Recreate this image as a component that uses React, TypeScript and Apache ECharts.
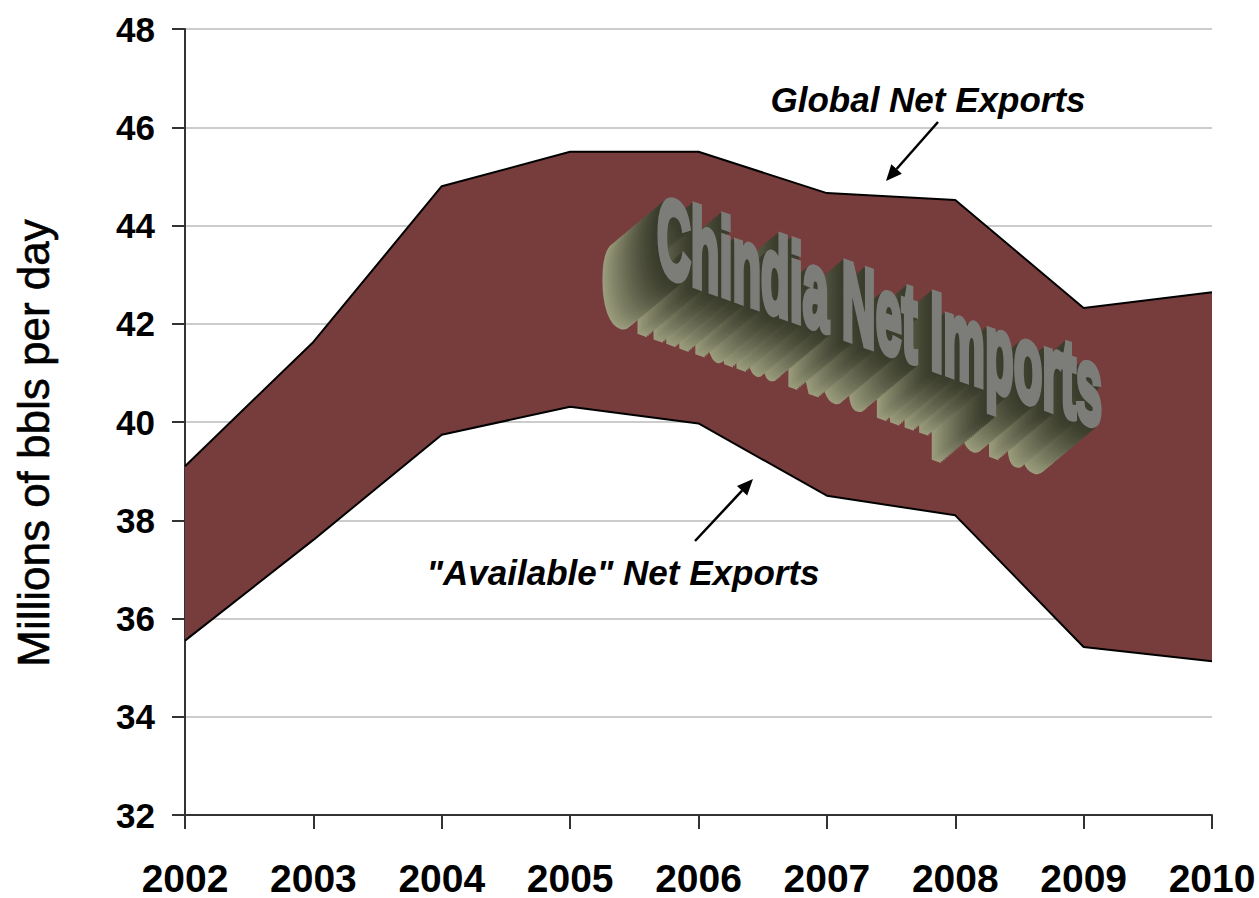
import React, { useEffect, useRef } from "react";
import * as echarts from "echarts";

const years = ["2002", "2003", "2004", "2005", "2006", "2007", "2008", "2009", "2010"];
const globalNetExports = [39.1, 41.63, 44.8, 45.5, 45.5, 44.66, 44.52, 42.32, 42.64];
const availableNetExports = [35.55, 37.6, 39.74, 40.31, 39.97, 38.5, 38.1, 35.42, 35.13];
const yMin = 32;
const yMax = 48;
const yStep = 2;

const yTitle = "Millions of bbls per day";
const globalLabel = "Global Net Exports";
const availableLabel = "\"Available\" Net Exports";
const chindiaLabel = "Chindia Net Imports";

const FONT = "'Liberation Sans', Arial, sans-serif";

function arrow(x1: number, y1: number, x2: number, y2: number) {
  const ang = Math.atan2(y2 - y1, x2 - x1);
  const L = 16;
  const W = 7;
  const bx = x2 - L * Math.cos(ang);
  const by = y2 - L * Math.sin(ang);
  const px = -Math.sin(ang) * W;
  const py = Math.cos(ang) * W;
  return [
    { type: "line", z: 100, shape: { x1, y1, x2: bx, y2: by }, style: { stroke: "#000", lineWidth: 2.5 } },
    {
      type: "polygon",
      z: 100,
      shape: { points: [[x2, y2], [bx + px, by + py], [bx - px, by - py]] },
      style: { fill: "#000" },
    },
  ];
}

function hexLerp(a: string, b: string, t: number) {
  const pa = [1, 3, 5].map((i) => parseInt(a.slice(i, i + 2), 16));
  const pb = [1, 3, 5].map((i) => parseInt(b.slice(i, i + 2), 16));
  const c = pa.map((v, i) => Math.round(v + (pb[i] - v) * t));
  return "rgb(" + c.join(",") + ")";
}

function chindiaText() {
  const k = 0.35; // vertical shear (slope)
  const E = 1, F = 0, G = k / 2, H = k / 2;
  const Qv = Math.sqrt(E * E + H * H);
  const Rv = Math.sqrt(F * F + G * G);
  const s1 = Qv + Rv;
  const s2 = Qv - Rv;
  const a1 = Math.atan2(G, F);
  const a2 = Math.atan2(H, E);
  const theta = (a2 - a1) / 2;
  const phi = (a2 + a1) / 2;
  const fontSize = 110;
  let w = 1100;
  try {
    const ctx = document.createElement("canvas").getContext("2d");
    if (ctx) {
      ctx.font = "bold " + fontSize + "px 'Liberation Sans'";
      w = ctx.measureText(chindiaLabel).width;
    }
  } catch (e) {}
  const cond = 445 / w;
  const x0 = 657;
  const y0 = 234;
  const make = (dx: number, dy: number, fill: string) => ({
    type: "group",
    x: x0 + dx,
    y: y0 + dy,
    rotation: -phi,
    scaleX: s1,
    scaleY: s2,
    z: 100,
    children: [
      {
        type: "group",
        rotation: -theta,
        z: 100,
        children: [
          {
            type: "text",
            scaleX: cond,
            z: 100,
            style: {
              text: chindiaLabel,
              x: 0,
              y: 0,
              fontSize,
              fontWeight: "bold",
              fontFamily: FONT,
              fill,
              stroke: fill,
              lineWidth: 7,
              textAlign: "left",
              textVerticalAlign: "middle",
            },
          },
        ],
      },
    ],
  });
  const out: any[] = [];
  const N = 32;
  for (let i = N; i >= 1; i--) {
    const t = i / N;
    out.push(make(-55 * t, 46 * t, hexLerp("#393b2b", "#9a9c7c", Math.pow(t, 1.3))));
  }
  out.push(make(0, 0, "#7c7d79"));
  return { type: "group", z: 100, children: out };
}

export default function App() {
  const ref = useRef<HTMLDivElement>(null);
  useEffect(() => {
    document.body.style.margin = "0";
    if (!ref.current) return;
    const chart = echarts.init(ref.current, null, { renderer: "svg" });
    const diff = globalNetExports.map((v, i) => +(v - availableNetExports[i]).toFixed(3));
    chart.setOption({
      animation: false,
      backgroundColor: "#fff",
      grid: { left: 185, right: 47, top: 29, bottom: 83 },
      xAxis: {
        type: "category",
        data: years,
        boundaryGap: false,
        axisLine: { show: true, lineStyle: { color: "#333", width: 2 } },
        axisTick: { show: true, length: 14, lineStyle: { color: "#333", width: 2 } },
        axisLabel: {
          fontSize: 39,
          lineHeight: 38,
          fontWeight: "bold",
          fontFamily: FONT,
          color: "#000",
          margin: 44,
        },
        splitLine: { show: false },
      },
      yAxis: {
        type: "value",
        min: yMin,
        max: yMax,
        interval: yStep,
        axisLine: { show: true, lineStyle: { color: "#333", width: 2 } },
        axisTick: { show: true, length: 13, lineStyle: { color: "#333", width: 2 } },
        axisLabel: {
          fontSize: 35,
          fontWeight: "bold",
          fontFamily: FONT,
          color: "#000",
          margin: 30,
        },
        splitLine: { show: true, lineStyle: { color: "#cccccc", width: 2 } },
      },
      series: [
        {
          type: "line",
          name: "Available Net Exports",
          data: availableNetExports,
          stack: "band",
          symbol: "none",
          lineStyle: { color: "#000", width: 2 },
          z: 3,
        },
        {
          type: "line",
          name: "Global Net Exports",
          data: diff,
          stack: "band",
          symbol: "none",
          lineStyle: { color: "#000", width: 2 },
          areaStyle: { color: "#773c3c", opacity: 1 },
          z: 2,
        },
      ],
      graphic: [
        chindiaText(),
        {
          type: "text",
          x: 33,
          y: 443,
          rotation: Math.PI / 2,
          z: 100,
          style: {
            text: yTitle,
            fontSize: 44,
            fontFamily: FONT,
            fill: "#000",
            stroke: "#000",
            lineWidth: 0.6,
            textAlign: "center",
            textVerticalAlign: "middle",
          },
        },
        {
          type: "text",
          x: 928,
          y: 99,
          z: 100,
          style: {
            text: globalLabel,
            fontSize: 35,
            fontWeight: "bold",
            fontStyle: "italic",
            fontFamily: FONT,
            fill: "#000",
            textAlign: "center",
            textVerticalAlign: "middle",
          },
        },
        {
          type: "text",
          x: 623,
          y: 572,
          z: 100,
          style: {
            text: availableLabel,
            fontSize: 35,
            fontWeight: "bold",
            fontStyle: "italic",
            fontFamily: FONT,
            fill: "#000",
            textAlign: "center",
            textVerticalAlign: "middle",
          },
        },
        ...arrow(938, 122, 886, 181),
        ...arrow(695, 541, 753, 479),
      ],
    });
    return () => chart.dispose();
  }, []);
  return <div ref={ref} style={{ width: 1259, height: 898 }} />;
}
